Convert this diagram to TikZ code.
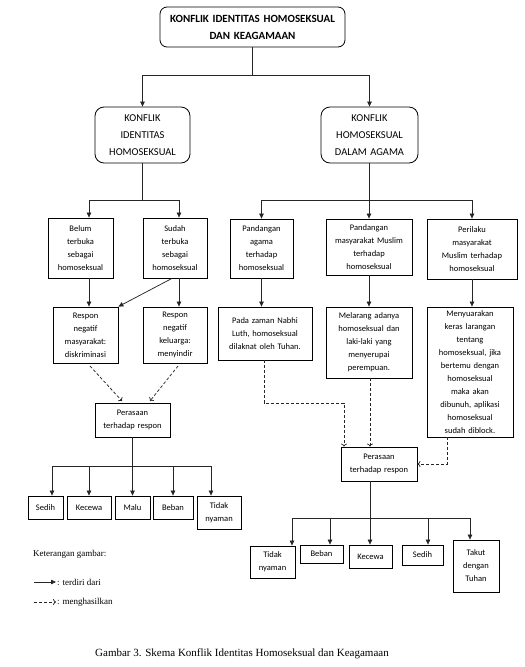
\documentclass[tikz,border=0pt]{standalone}
\usepackage{fontspec}
\setmainfont{Liberation Serif}
\newfontfamily\boxfont{Carlito}
\usetikzlibrary{arrows.meta,calc}
\tikzset{
 bx/.style={draw=black, line width=0.8pt, inner sep=0pt, align=center, font=\boxfont\fontsize{8.5}{13}\selectfont},
 rbx/.style={bx, rounded corners=7pt},
 ln/.style={line width=0.75pt, draw=black!85},
 arr/.style={ln, -{Triangle[length=5pt,width=4.5pt]}},
 darr/.style={ln, dash pattern=on 3pt off 2pt, -{To[length=3pt,width=6pt]}},
 lgd/.style={font=\fontsize{9}{11}\selectfont, inner sep=0pt},
}
\newcommand\mkbox[7]{%
 \pgfmathsetmacro\cx{(#3+#5)/2}\pgfmathsetmacro\cy{(#4+#6)/2}%
 \pgfmathsetmacro\ww{#5-#3}\pgfmathsetmacro\hh{#6-#4}\pgfmathsetmacro\tw{#5-#3-4}%
 \node[#1, minimum width=\ww pt, minimum height=\hh pt, text width=\tw pt] (#2) at (\cx,\cy) {#7};}
\begin{document}
\begin{tikzpicture}[x=1pt,y=-1pt]
\path[use as bounding box] (0,0) rectangle (525,667);
% boxes
\mkbox{rbx, font=\boxfont\bfseries\fontsize{11}{17}\selectfont}{top}{160}{7}{345}{47}{KONFLIK IDENTITAS HOMOSEKSUAL\\DAN KEAGAMAAN}
\mkbox{rbx, rounded corners=9pt, font=\boxfont\fontsize{10.5}{17}\selectfont}{kia}{95}{107}{190}{163}{KONFLIK\\IDENTITAS\\HOMOSEKSUAL}
\mkbox{rbx, rounded corners=9pt, font=\boxfont\fontsize{10.5}{17}\selectfont}{kha}{321}{107}{418}{163}{KONFLIK\\HOMOSEKSUAL\\DALAM AGAMA}
\mkbox{bx}{belum}{48}{218}{113}{278}{Belum\\terbuka\\sebagai\\homoseksual}
\mkbox{bx}{sudah}{143}{218}{207}{278}{Sudah\\terbuka\\sebagai\\homoseksual}
\mkbox{bx}{pa}{230}{219}{293}{278}{Pandangan\\agama\\terhadap\\homoseksual}
\mkbox{bx}{pm}{326}{219}{412}{275}{Pandangan\\masyarakat Muslim\\terhadap\\homoseksual}
\mkbox{bx}{pr}{427}{219}{517}{279}{Perilaku\\masyarakat\\Muslim terhadap\\homoseksual}
\mkbox{bx}{rm}{53}{307}{118}{363}{Respon\\negatif\\masyarakat:\\diskriminasi}
\mkbox{bx}{rk}{143}{307}{207}{363}{Respon\\negatif\\keluarga:\\menyindir}
\mkbox{bx}{pz}{218}{307}{312}{360}{Pada zaman Nabhi\\Luth, homoseksual\\dilaknat oleh Tuhan.}
\mkbox{bx}{ml}{326}{307}{412}{378}{Melarang adanya\\homoseksual dan\\laki-laki yang\\menyerupai\\perempuan.}
\mkbox{bx}{mn}{427}{307}{513}{437}{Menyuarakan\\keras larangan\\tentang\\homoseksual, jika\\bertemu dengan\\homoseksual\\maka akan\\dibunuh, aplikasi\\homoseksual\\sudah diblock.}
\mkbox{bx}{perL}{95}{403}{170}{437}{Perasaan\\terhadap respon}
\mkbox{bx}{perR}{341}{447}{417}{481}{Perasaan\\terhadap respon}
% bottom left
\mkbox{bx}{sL}{28}{496}{63}{519}{Sedih}
\mkbox{bx}{kL}{67}{496}{111}{519}{Kecewa}
\mkbox{bx}{mL}{115}{496}{150}{519}{Malu}
\mkbox{bx}{bL}{153}{496}{193}{519}{Beban}
\mkbox{bx}{tL}{197}{496}{241}{529}{Tidak\\nyaman}
% bottom right
\mkbox{bx}{tR}{250}{546}{295}{578}{Tidak\\nyaman}
\mkbox{bx}{bR}{300}{545}{343}{563}{Beban}
\mkbox{bx}{kR}{349}{545}{392}{568}{Kecewa}
\mkbox{bx}{sR}{402}{545}{443}{565}{Sedih}
\mkbox{bx}{tkR}{453}{540}{499}{592}{Takut\\dengan\\Tuhan}
% top connectors
\coordinate (j0) at (252.5,75);
\draw[ln] (top.south) -- (j0);
\draw[arr] (j0) -| (kia.north);
\draw[arr] (j0) -| (kha.north);
% left tree level 3
\draw[ln] (kia.south) -- (142.5,200);
\draw[ln] (89,200) -- (179,200);
\draw[arr] (89,200) -- (89,0 |- belum.north);
\draw[arr] (179,200) -- (179,0 |- sudah.north);
% right tree level 3
\draw[ln] (kha.south) -- (369.5,200);
\draw[ln] (pa.north |- 0,200) -- (pr.north |- 0,200);
\draw[arr] (pa.north |- 0,200) -- (pa.north);
\draw[arr] (pm.north |- 0,200) -- (pm.north);
\draw[arr] (pr.north |- 0,200) -- (pr.north);
% level 3 -> 4
\draw[arr] (89,0 |- belum.south) -- (89,0 |- rm.north);
\draw[arr] (179,0 |- sudah.south) -- (179,0 |- rk.north);
\draw[arr] (172,0 |- sudah.south) -- (rm.north east);
\draw[arr] (pa.south) -- (pa.south |- pz.north);
\draw[arr] (pm.south) -- (pm.south |- ml.north);
\draw[arr] (pr.south) -- (pr.south |- mn.north);
% dashed left
\draw[darr] (90,366) -- (122,401);
\draw[darr] (178,366) -- (150,401);
% dashed right
\draw[darr] (264,0 |- pz.south) -- (264,403) -- (344,403) -- (344,0 |- perR.north);
\draw[darr] (370,0 |- ml.south) -- (370,0 |- perR.north);
\draw[darr] (447,0 |- mn.south) -- (447,464) -- (perR.east);
% bottom left tree
\draw[ln] (perL.south) -- (132.5,466);
\draw[ln] (52,466) -- (211,466);
\foreach \x/\b in {52/sL,89/kL,132.5/mL,173/bL,211/tL}
  \draw[arr] (\x,466) -- (\x,0 |- \b.north);
% bottom right tree
\draw[ln] (370,0 |- perR.south) -- (370,518);
\draw[ln] (292,518) -- (470,518);
\foreach \x/\b in {292/tR,330/bR,370/kR,428/sR,470/tkR}
  \draw[arr] (\x,518) -- (\x,0 |- \b.north);
% legend
\node[lgd, anchor=base west] (leg) at (33,556) {Keterangan gambar:};
\coordinate (la1) at (34,582); \coordinate (la2) at (56,582);
\draw[arr] (la1) -- (la2);
\node[lgd, anchor=west] (lt1) at (57,582) {: terdiri dari};
\coordinate (lb1) at (34,602); \coordinate (lb2) at (56,602);
\draw[darr] (lb1) -- (lb2);
\node[lgd, anchor=west] (lt2) at (57,602) {: menghasilkan};
% caption
\node[anchor=base, inner sep=0pt, font=\fontsize{11}{13}\selectfont] (cap) at (242,656) {Gambar 3. Skema Konflik Identitas Homoseksual dan Keagamaan};
\end{tikzpicture}
\end{document}
